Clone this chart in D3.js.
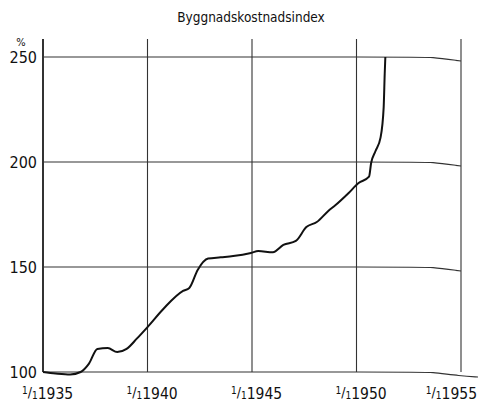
<!DOCTYPE html>
<html>
<head>
<meta charset="utf-8">
<script src="https://cdn.jsdelivr.net/npm/d3@7"></script>
<style>
  body { margin: 0; background: #fff; }
  text { font-family: "DejaVu Sans Condensed", "Liberation Sans", sans-serif; fill: #111; }
</style>
</head>
<body>
<script>
// Byggnadskostnadsindex
const years  = [1935.0, 1935.6, 1936.3, 1936.8, 1937.2, 1937.6, 1938.1, 1938.55, 1939.0, 1939.5, 1940.0, 1940.8, 1941.7, 1942.0, 1942.4, 1942.9, 1943.5, 1944.1, 1944.95, 1945.3, 1946.0, 1946.5, 1947.1, 1947.6, 1948.1, 1948.65, 1949.0, 1949.6, 1950.1, 1950.6, 1950.7, 1950.9, 1951.15, 1951.3, 1951.35, 1951.38];
const values = [100,    99.3,   98.8,   100,    104,    111,    111.4,  109.5,   111,    116,    121.4,  130.5,  138.6,  140,    148.6,  154,    154.6,  155.2,  156.7,   157.6,  157,    160.5,  162.4,  169,    171.4,  176.7,   179.5,  185,    190,    193,    199.5,  205,    211.6,  226,    242,    250];
const yTicks = [100, 150, 200, 250];
const xTicks = [1935, 1940, 1945, 1950, 1955];

const width = 478, height = 403;
const svg = d3.select("body").append("svg")
    .attr("width", width)
    .attr("height", height);

const x = d3.scaleLinear([1935, 1955], [43, 461]);
const y = d3.scaleLinear([100, 250], [372, 57]);

svg.append("text")
    .attr("x", 251)
    .attr("y", 22)
    .attr("text-anchor", "middle")
    .attr("font-size", 13.5)
    .text("Byggnadskostnadsindex");

// grid (the scanned sheet bends a little at the right edge)
const grid = svg.append("g").attr("stroke", "#333").attr("fill", "none");
const bent = d3.line().curve(d3.curveBasis);

grid.selectAll("path.h")
  .data(yTicks)
  .join("path")
    .attr("class", "h")
    .attr("stroke-width", 1.1)
    .attr("d", d => {
      const pts = [[x(1935), y(d)], [x(1935), y(d)], [x(1953), y(d)], [x(1953.5), y(d)], [x(1955), y(d) + 4]];
      if (d === 100) pts.push([width, y(d) + 5], [width, y(d) + 5]);
      else pts.push([x(1955), y(d) + 4]);
      return bent(pts);
    });

grid.selectAll("line.v")
  .data(xTicks)
  .join("line")
    .attr("class", "v")
    .attr("x1", d => x(d))
    .attr("x2", d => x(d))
    .attr("y1", 39)
    .attr("y2", y(100))
    .attr("stroke-width", d => d === 1935 ? 2 : 1.1);

// y labels
svg.append("g")
  .selectAll("text")
  .data(yTicks)
  .join("text")
    .attr("x", 37)
    .attr("y", d => y(d) + 6)
    .attr("text-anchor", "end")
    .attr("font-size", 16)
    .text(d => d);

svg.append("text")
    .attr("x", 21)
    .attr("y", 46)
    .attr("text-anchor", "middle")
    .attr("font-size", 11)
    .text("%");

// x labels: ¹/₁1935 style; the last one is pulled in to stay on the page
const xl = svg.append("g")
  .selectAll("text")
  .data(xTicks)
  .join("text")
    .attr("x", d => d === 1955 ? width - 1 : x(d) - 21)
    .attr("y", 399)
    .attr("text-anchor", d => d === 1955 ? "end" : "start")
    .attr("font-size", 15.5);

xl.append("tspan").attr("font-size", 10).attr("dy", -5).text("1");
xl.append("tspan").attr("font-size", 14).attr("dy", 3).text("/");
xl.append("tspan").attr("font-size", 10).attr("dy", 2).text("1");
xl.append("tspan").attr("dy", 0).text(d => d);

// index line
const line = d3.line()
    .x((d, i) => x(years[i]))
    .y(d => y(d))
    .curve(d3.curveMonotoneX);

svg.append("path")
    .datum(values)
    .attr("fill", "none")
    .attr("stroke", "#111")
    .attr("stroke-width", 2)
    .attr("stroke-linejoin", "round")
    .attr("d", line);
</script>
</body>
</html>
